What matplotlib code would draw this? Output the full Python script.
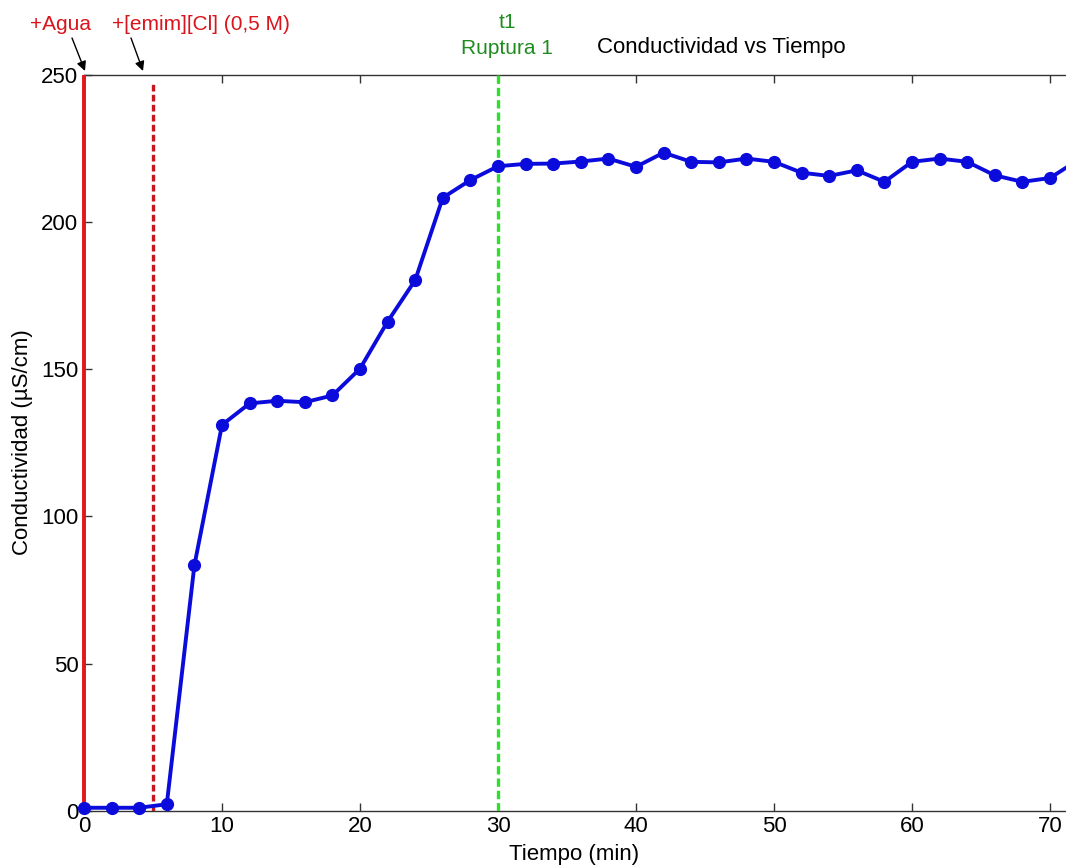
import matplotlib
matplotlib.use("Agg")
import matplotlib.pyplot as plt

plt.rcParams['font.family'] = ['Liberation Sans', 'DejaVu Sans']

# Data
tiempo = [0, 2, 4, 6, 8, 10, 12, 14, 16, 18, 20, 22, 24, 26, 28, 30, 32, 34, 36,
          38, 40, 42, 44, 46, 48, 50, 52, 54, 56, 58, 60, 62, 64, 66, 68, 70, 72]
conductividad = [1.0, 1.0, 1.0, 2.2, 83.4, 131.1, 138.4, 139.3, 138.8, 141.1, 150.2,
                 166.2, 180.3, 208.3, 214.3, 219.0, 219.8, 219.9, 220.6, 221.6, 218.8,
                 223.6, 220.5, 220.3, 221.6, 220.5, 216.8, 215.7, 217.6, 213.7, 220.5,
                 221.6, 220.5, 215.9, 213.7, 215.0, 221.0]
x_agua = 0
x_emim = 5
x_ruptura = 30
xticks = [0, 10, 20, 30, 40, 50, 60, 70]
yticks = [0, 50, 100, 150, 200, 250]

W, H = 1066, 867
fig = plt.figure(figsize=(W / 100, H / 100), dpi=100)
x0, x1 = 84, 1066
y_top, y_bot = 75, 810.7
ax = fig.add_axes([x0 / W, (H - y_bot) / H, (x1 - x0) / W, (y_bot - y_top) / H])
ax.set_xlim(0, (x1 - x0) / 13.8)
ax.set_ylim(0, 250)

ax.plot([x_agua, x_agua], [0, 250], color='#e3161c', linewidth=2.8,
        zorder=3, clip_on=False, solid_capstyle='butt')
ax.plot([x_emim, x_emim], [0, 247], color='#c8161e', linewidth=2.4,
        dashes=(2, 1), zorder=3)
ax.plot([x_ruptura, x_ruptura], [0, 250], color='#2ee02e', linewidth=2.4,
        dashes=(2.5, 1.2), zorder=3)
ax.plot(tiempo, conductividad, '-o', color='#0b0bdc', linewidth=2.8,
        markersize=8.5, zorder=4, clip_on=False)

ax.set_xticks(xticks)
ax.set_yticks(yticks)
ax.tick_params(direction='in', length=6, width=1, labelsize=16,
               top=True, right=False, pad=4, color='#333333')
ax.spines['right'].set_visible(False)
for s in ['left', 'top', 'bottom']:
    ax.spines[s].set_color('#333333')
    ax.spines[s].set_linewidth(1)

ax.set_xlabel('Tiempo (min)', fontsize=16, labelpad=2)
fig.text(23 / W, 1 - 442 / H, 'Conductividad (µS/cm)', fontsize=16,
         rotation=90, ha='center', va='center')
ax.xaxis.set_label_coords((574 - x0) / (x1 - x0), -0.045)

fig.text(721 / W, 1 - 47 / H, 'Conductividad vs Tiempo', fontsize=16,
         ha='center', va='center', color='black')
fig.text(507 / W, 1 - 22 / H, 't1', fontsize=15, ha='center', va='center',
         color='#1f8c1f')
fig.text(507 / W, 1 - 48 / H, 'Ruptura 1', fontsize=15, ha='center', va='center',
         color='#1f8c1f')
fig.text(30 / W, 1 - 25 / H, '+Agua', fontsize=15, ha='left', va='center',
         color='#d9141c')
fig.text(112 / W, 1 - 25 / H, '+[emim][Cl] (0,5 M)', fontsize=15, ha='left',
         va='center', color='#d9141c')

arrow = dict(arrowstyle='-|>', color='black', lw=1, mutation_scale=14,
             shrinkA=0, shrinkB=0)
ax.annotate('', xy=(85, H - 71), xycoords='figure pixels',
            xytext=(72, H - 38), textcoords='figure pixels', arrowprops=arrow)
ax.annotate('', xy=(143, H - 71), xycoords='figure pixels',
            xytext=(131, H - 38), textcoords='figure pixels', arrowprops=arrow)

fig.savefig('out.png', dpi=100)
